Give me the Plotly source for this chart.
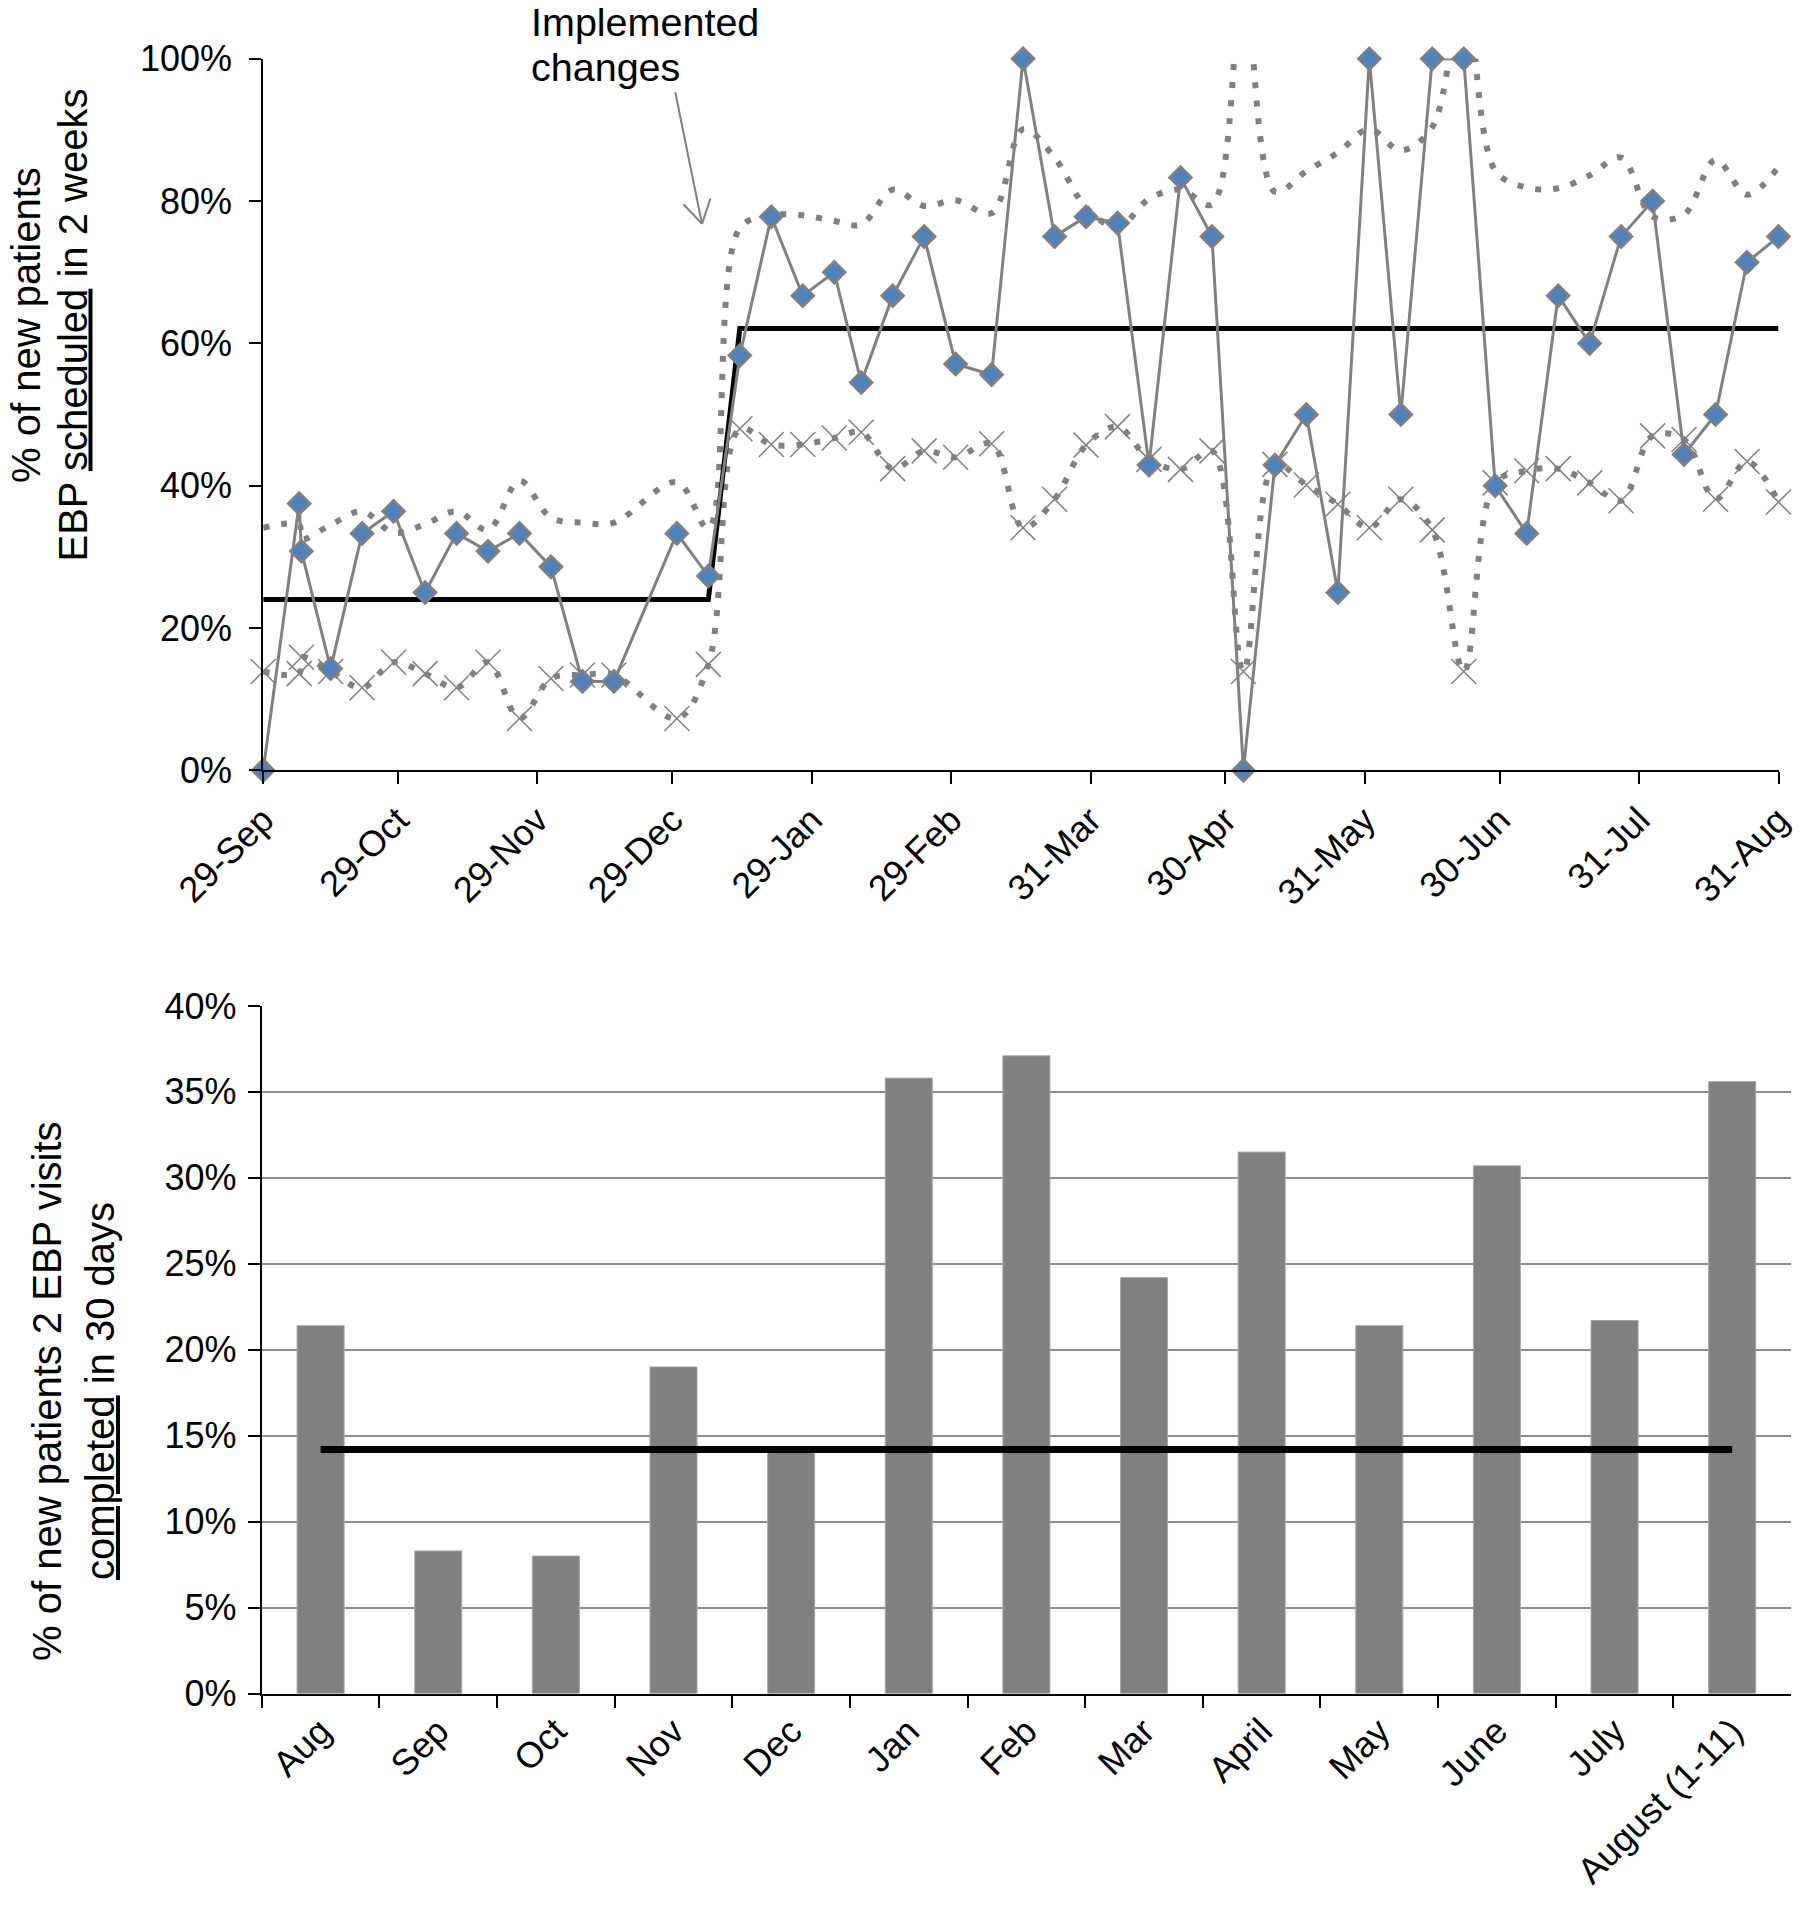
import plotly.graph_objects as go

# ---------------- top chart data ----------------
week_dates = [
    "2011-09-29", "2011-10-07", "2011-10-07 12:00", "2011-10-14", "2011-10-21", "2011-10-28",
    "2011-11-04", "2011-11-11", "2011-11-18", "2011-11-25", "2011-12-02", "2011-12-09",
    "2011-12-16", "2011-12-30", "2012-01-06", "2012-01-13", "2012-01-20", "2012-01-27",
    "2012-02-03", "2012-02-09", "2012-02-16", "2012-02-23", "2012-03-01", "2012-03-09",
    "2012-03-16", "2012-03-23", "2012-03-30", "2012-04-06", "2012-04-13", "2012-04-20",
    "2012-04-27", "2012-05-04", "2012-05-11", "2012-05-18", "2012-05-25", "2012-06-01",
    "2012-06-08", "2012-06-15", "2012-06-22", "2012-06-29", "2012-07-06", "2012-07-13",
    "2012-07-20", "2012-07-27", "2012-08-03", "2012-08-10", "2012-08-17", "2012-08-24",
    "2012-08-31",
]
pct_scheduled = [
    0, 37.5, 30.8, 14.3, 33.3, 36.4, 25.0, 33.3, 30.8, 33.3, 28.6, 12.5, 12.5,
    33.3, 27.3, 58.3, 77.8, 66.7, 70.0, 54.5, 66.7, 75.0, 57.1, 55.6, 100,
    75.0, 77.8, 76.9, 42.9, 83.3, 75.0, 0, 42.9, 50.0, 25.0, 100, 50.0,
    100, 100, 40.0, 33.3, 66.7, 60.0, 75.0, 80.0, 44.4, 50.0, 71.4, 75.0,
]
center_line = [
    24.0, 24.0, 24.0, 24.0, 24.0, 24.0, 24.0, 24.0, 24.0, 24.0, 24.0, 24.0, 24.0,
    24.0, 24.0, 62.1, 62.1, 62.1, 62.1, 62.1, 62.1, 62.1, 62.1, 62.1, 62.1,
    62.1, 62.1, 62.1, 62.1, 62.1, 62.1, 62.1, 62.1, 62.1, 62.1, 62.1, 62.1,
    62.1, 62.1, 62.1, 62.1, 62.1, 62.1, 62.1, 62.1, 62.1, 62.1, 62.1, 62.1,
]
upper_limit = [
    34.1, 34.5, 32.5, 34.5, 36.4, 33.4, 34.6, 36.4, 33.8, 40.7, 35.5, 34.8, 34.8,
    40.5, 34.0, 76.2, 78.0, 78.0, 77.2, 76.7, 81.6, 79.3, 80.1, 78.3, 90.1,
    86.1, 79.1, 76.3, 80.3, 81.6, 79.5, 110.0, 81.3, 84.2, 86.8, 90.1, 87.1,
    90.4, 110.0, 84.3, 81.9, 81.8, 83.6, 86.1, 77.8, 78.1, 85.8, 80.9, 84.8,
]
lower_limit = [
    13.9, 13.6, 15.9, 13.9, 11.6, 15.2, 13.6, 11.6, 15.2, 7.3, 12.9, 13.4, 13.4,
    7.3, 14.9, 48.0, 45.8, 45.8, 46.7, 47.5, 42.4, 44.9, 44.0, 45.9, 34.1,
    38.1, 45.7, 48.3, 43.7, 42.3, 44.9, 13.9, 43.0, 40.1, 37.4, 34.1, 38.1,
    33.8, 13.9, 40.4, 42.1, 42.4, 40.4, 37.9, 47.0, 46.5, 38.1, 43.4, 37.7,
]
top_tick_dates = [
    "2011-09-29", "2011-10-29", "2011-11-29", "2011-12-29", "2012-01-29", "2012-02-29",
    "2012-03-31", "2012-04-30", "2012-05-31", "2012-06-30", "2012-07-31", "2012-08-31",
]
top_tick_text = [
    "29-Sep", "29-Oct", "29-Nov", "29-Dec", "29-Jan", "29-Feb",
    "31-Mar", "30-Apr", "31-May", "30-Jun", "31-Jul", "31-Aug",
]
top_range = ["2011-09-29", "2012-08-31"]
arrow_tip = ["2012-01-04 14:00", 76.8]

# ---------------- bottom chart data ----------------
months = ["Aug", "Sep", "Oct", "Nov", "Dec", "Jan", "Feb", "Mar", "April",
          "May", "June", "July", "August (1-11)"]
pct_completed = [21.4, 8.3, 8.0, 19.0, 14.1, 35.8, 37.1, 24.2, 31.5, 21.4, 30.7, 21.7, 35.6]
completed_center = [14.2, 14.2, 14.2, 14.2, 14.2, 14.2, 14.2, 14.2, 14.2, 14.2, 14.2, 14.2, 14.2]

GRAY = "#808080"
BLUE = "#4F81BD"
FONT = "Liberation Sans, Arial, sans-serif"
W, H = 1800, 1920

fig = go.Figure()

# limits (smoothed dotted lines)
fig.add_trace(go.Scatter(
    x=week_dates, y=upper_limit, mode="lines",
    line=dict(color=GRAY, width=6, dash="6px,12px", shape="spline", smoothing=1),
    xaxis="x", yaxis="y", hoverinfo="skip"))
fig.add_trace(go.Scatter(
    x=week_dates, y=lower_limit, mode="lines+markers",
    line=dict(color=GRAY, width=6, dash="6px,12px", shape="spline", smoothing=1),
    marker=dict(symbol="x-thin-open", size=25, color=GRAY, line=dict(color=GRAY, width=1.5)),
    cliponaxis=False, xaxis="x", yaxis="y", hoverinfo="skip"))
# center line
fig.add_trace(go.Scatter(
    x=week_dates, y=center_line, mode="lines",
    line=dict(color="black", width=5), xaxis="x", yaxis="y"))
# weekly percentages
fig.add_trace(go.Scatter(
    x=week_dates, y=pct_scheduled, mode="lines+markers",
    line=dict(color=GRAY, width=3),
    marker=dict(symbol="diamond", size=17, color=BLUE, line=dict(color=GRAY, width=2.5)),
    cliponaxis=False, xaxis="x", yaxis="y"))

# bottom bars
fig.add_trace(go.Bar(
    x=months, y=pct_completed,
    marker=dict(color=GRAY, line=dict(color="#a8a8a8", width=1)),
    xaxis="x2", yaxis="y2"))
fig.add_trace(go.Scatter(
    x=months, y=completed_center, mode="lines",
    line=dict(color="black", width=7), xaxis="x2", yaxis="y2"))

axis_common = dict(showline=True, linecolor="black", linewidth=2, ticks="outside",
                   ticklen=12, tickwidth=2, tickcolor="black", zeroline=False,
                   tickfont=dict(family=FONT, size=36, color="black"))

fig.update_layout(
    width=W, height=H, margin=dict(l=0, r=0, t=0, b=0),
    paper_bgcolor="white", plot_bgcolor="white", showlegend=False,
    font=dict(family=FONT, size=36, color="black"),
    bargap=0.6,
    xaxis=dict(domain=[263.2 / W, 1778.5 / W], anchor="y", type="date", range=top_range,
               tickmode="array", tickvals=top_tick_dates, ticktext=top_tick_text,
               tickangle=-45, showgrid=False, automargin=False, **axis_common),
    yaxis=dict(domain=[1 - 770.4 / H, 1 - 58.7 / H], anchor="x", range=[0, 100],
               tick0=0, dtick=20, ticksuffix="%", showgrid=False, automargin=False,
               ticklabelstandoff=10, **axis_common),
    xaxis2=dict(domain=[261.8 / W, 1791 / W], anchor="y2", type="category",
                tickson="boundaries", tickangle=-45, showgrid=False, automargin=False,
                **axis_common),
    yaxis2=dict(domain=[1 - 1693.6 / H, 1 - 1005.9 / H], anchor="x2", range=[0, 40],
                tick0=0, dtick=5, ticksuffix="%", showgrid=True, gridcolor="#8c8c8c",
                gridwidth=2, automargin=False, ticklabelstandoff=4, **axis_common),
)

ann_font = dict(family=FONT, size=40, color="black")
fig.add_annotation(xref="paper", yref="paper", x=26 / W, y=1 - 325 / H,
                   text="% of new patients", textangle=-90, showarrow=False,
                   xanchor="center", yanchor="middle", font=ann_font)
fig.add_annotation(xref="paper", yref="paper", x=72.5 / W, y=1 - 325 / H,
                   text='EBP <span style="text-decoration:underline">scheduled</span> in 2 weeks',
                   textangle=-90, showarrow=False, xanchor="center", yanchor="middle",
                   font=ann_font)
fig.add_annotation(xref="paper", yref="paper", x=47 / W, y=1 - 1391 / H,
                   text="% of new patients 2 EBP visits", textangle=-90, showarrow=False,
                   xanchor="center", yanchor="middle", font=ann_font)
fig.add_annotation(xref="paper", yref="paper", x=100 / W, y=1 - 1391 / H,
                   text='<span style="text-decoration:underline">completed</span> in 30 days',
                   textangle=-90, showarrow=False, xanchor="center", yanchor="middle",
                   font=ann_font)
note_font = dict(family=FONT, size=39.5, color="black")
fig.add_annotation(xref="paper", yref="paper", x=529 / W, y=1 - 22 / H,
                   text="Implemented", showarrow=False,
                   xanchor="left", yanchor="middle", font=note_font)
fig.add_annotation(xref="paper", yref="paper", x=529 / W, y=1 - 67 / H,
                   text="changes", showarrow=False,
                   xanchor="left", yanchor="middle", font=note_font)
# arrow: shaft plus two thin open-V arms, all ending at the tip
for ax_off, ay_off in [(-27, -133), (-20, -21), (9, -27)]:
    fig.add_annotation(xref="x", yref="y", x=arrow_tip[0], y=arrow_tip[1], text="",
                       showarrow=True, ax=ax_off, ay=ay_off, arrowhead=0,
                       arrowwidth=2, arrowcolor=GRAY, standoff=0, startstandoff=0)

fig.write_html("out.html", config={"displayModeBar": False},
               post_script="document.body.style.margin='0';document.body.style.overflow='hidden';")
